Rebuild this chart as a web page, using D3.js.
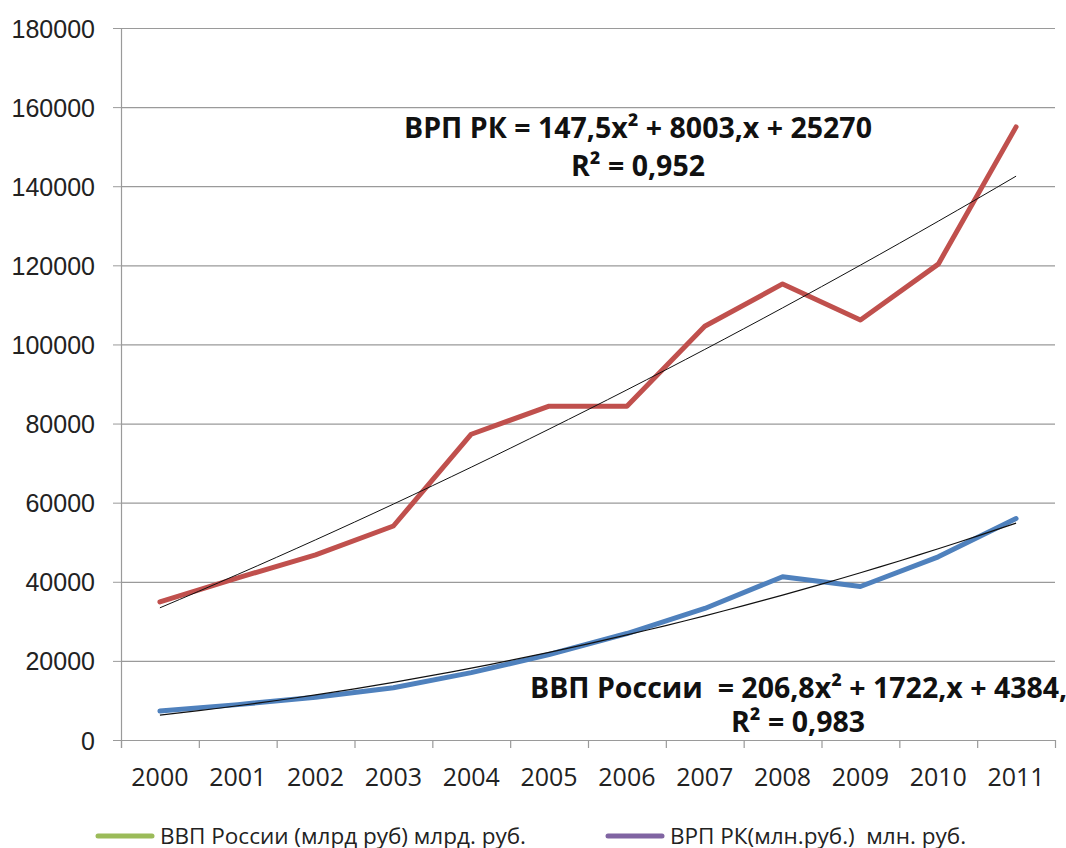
<!DOCTYPE html>
<html lang="ru">
<head>
	<meta charset="utf-8">
	<title>ВВП России и ВРП РК</title>
	<script src="https://d3js.org/d3.v7.min.js"></script>
	<style type="text/css">
		body { margin: 0; background: #fff; }
		svg { font-family: "Open Sans", sans-serif; }
		.tick-label { font-size: 25px; fill: #222; }
		.legend { font-size: 22.5px; fill: #222; }
		.eq { font-size: 28.5px; font-weight: bold; fill: #111; }
	</style>
</head>
<body>
	<script type="text/javascript">
	// data
	var years = ["2000","2001","2002","2003","2004","2005","2006","2007","2008","2009","2010","2011"]
	var vvpRussia = [7306, 8944, 10831, 13208, 17027, 21610, 26917, 33248, 41277, 38807, 46309, 55967]
	var vrpRK = [34900, 41000, 46800, 54100, 77300, 84400, 84400, 104600, 115300, 106200, 120300, 155000]
	// trendline coefficients shown on the chart (a*x^2 + b*x + c, x = 1..12)
	var trendRussia = [206.8, 1722, 4384]
	var trendRK = [147.5, 8003, 25270]
	var yTicks = [0, 20000, 40000, 60000, 80000, 100000, 120000, 140000, 160000, 180000]

	// colors
	var red = "#c0504d"
	var blue = "#4f81bd"
	var green = "#9bbb59"
	var purple = "#8064a2"
	var grid = "#9a9a9a"

	var w = 1066, h = 848
	var plotLeft = 121, plotRight = 1055, plotTop = 28, plotBottom = 740

	var svg = d3.select("body").append("svg")
		.attr("width", w)
		.attr("height", h)

	var xScale = d3.scaleBand().domain(years).range([plotLeft, plotRight])
	var yScale = d3.scaleLinear().domain([0, 180000]).range([plotBottom, plotTop])
	var xc = d => xScale(d) + xScale.bandwidth() / 2

	// y ticks + labels
	var yAxis = d3.axisLeft(yScale).tickValues(yTicks).tickSize(8).tickFormat(d3.format("d"))
	var gy = svg.append("g")
		.attr("transform", "translate(" + plotLeft + ",0)")
		.call(yAxis)
	gy.select(".domain").remove()
	gy.selectAll("line").attr("stroke", grid)
	gy.selectAll("text").attr("class", "tick-label").attr("x", -26).attr("dy", "0.36em")

	// gridlines
	svg.append("g").selectAll("line")
		.data(yTicks.filter(d => d > 0))
		.enter().append("line")
		.attr("x1", plotLeft).attr("x2", plotRight)
		.attr("y1", d => yScale(d) + 0.5).attr("y2", d => yScale(d) + 0.5)
		.attr("stroke", grid).attr("stroke-width", 1.2)

	// axis lines
	svg.append("line")
		.attr("x1", plotLeft + 0.5).attr("x2", plotLeft + 0.5).attr("y1", plotTop).attr("y2", plotBottom + 8)
		.attr("stroke", grid).attr("stroke-width", 1.2)
	svg.append("line")
		.attr("x1", plotLeft - 8).attr("x2", plotRight).attr("y1", plotBottom + 0.5).attr("y2", plotBottom + 0.5)
		.attr("stroke", grid).attr("stroke-width", 1.2)

	// x tick marks on category boundaries
	var bounds = years.map(d => xScale(d)).concat([plotRight])
	svg.append("g").selectAll("line")
		.data(bounds)
		.enter().append("line")
		.attr("x1", d => d + 0.5).attr("x2", d => d + 0.5)
		.attr("y1", plotBottom).attr("y2", plotBottom + 8)
		.attr("stroke", grid).attr("stroke-width", 1.2)

	// x labels
	svg.append("g").selectAll("text")
		.data(years)
		.enter().append("text")
		.attr("class", "tick-label")
		.attr("x", d => xc(d))
		.attr("y", 786)
		.attr("text-anchor", "middle")
		.text(d => d)

	// series lines
	var line = d3.line()
		.x((d, i) => xc(years[i]))
		.y(d => yScale(d))

	svg.append("path")
		.attr("d", line(vrpRK))
		.attr("fill", "none")
		.attr("stroke", red)
		.attr("stroke-width", 5)
		.attr("stroke-linejoin", "round")
		.attr("stroke-linecap", "round")

	svg.append("path")
		.attr("d", line(vvpRussia))
		.attr("fill", "none")
		.attr("stroke", blue)
		.attr("stroke-width", 5)
		.attr("stroke-linejoin", "round")
		.attr("stroke-linecap", "round")

	// polynomial trendlines from the printed equations
	var idx = d3.scaleLinear().domain([1, years.length]).range([xc(years[0]), xc(years[years.length - 1])])
	function trendPath(c) {
		var pts = d3.range(1, years.length + 0.001, 0.25).map(x => [idx(x), yScale(c[0] * x * x + c[1] * x + c[2])])
		return d3.line().curve(d3.curveMonotoneX)(pts)
	}
	svg.append("path")
		.attr("d", trendPath(trendRK))
		.attr("fill", "none").attr("stroke", "#111").attr("stroke-width", 1)
	svg.append("path")
		.attr("d", trendPath(trendRussia))
		.attr("fill", "none").attr("stroke", "#111").attr("stroke-width", 1.2)

	// equations
	svg.append("text").attr("class", "eq")
		.attr("x", 638).attr("y", 138).attr("text-anchor", "middle")
		.text("ВРП РК = 147,5x² + 8003,x + 25270")
	svg.append("text").attr("class", "eq")
		.attr("x", 638).attr("y", 176).attr("text-anchor", "middle")
		.text("R² = 0,952")
	svg.append("text").attr("class", "eq")
		.attr("x", 530).attr("y", 698).attr("text-anchor", "start")
		.attr("xml:space", "preserve")
		.text("ВВП России  = 206,8x² + 1722,x + 4384,")
	svg.append("text").attr("class", "eq")
		.attr("x", 731).attr("y", 732).attr("text-anchor", "start")
		.text("R² = 0,983")

	// legend
	var legendItems = [
		{ name: "ВВП России (млрд руб) млрд. руб.", color: green, x: 98 },
		{ name: "ВРП РК(млн.руб.)  млн. руб.", color: purple, x: 608 }
	]
	var lg = svg.append("g").selectAll("g")
		.data(legendItems)
		.enter().append("g")
		.attr("transform", d => "translate(" + d.x + ",836)")
	lg.append("line")
		.attr("x1", 0).attr("x2", 54)
		.attr("stroke", d => d.color).attr("stroke-width", 5)
		.attr("stroke-linecap", "round")
	lg.append("text")
		.attr("class", "legend")
		.attr("x", 62).attr("dy", "0.36em")
		.attr("xml:space", "preserve")
		.text(d => d.name)
	</script>
</body>
</html>
